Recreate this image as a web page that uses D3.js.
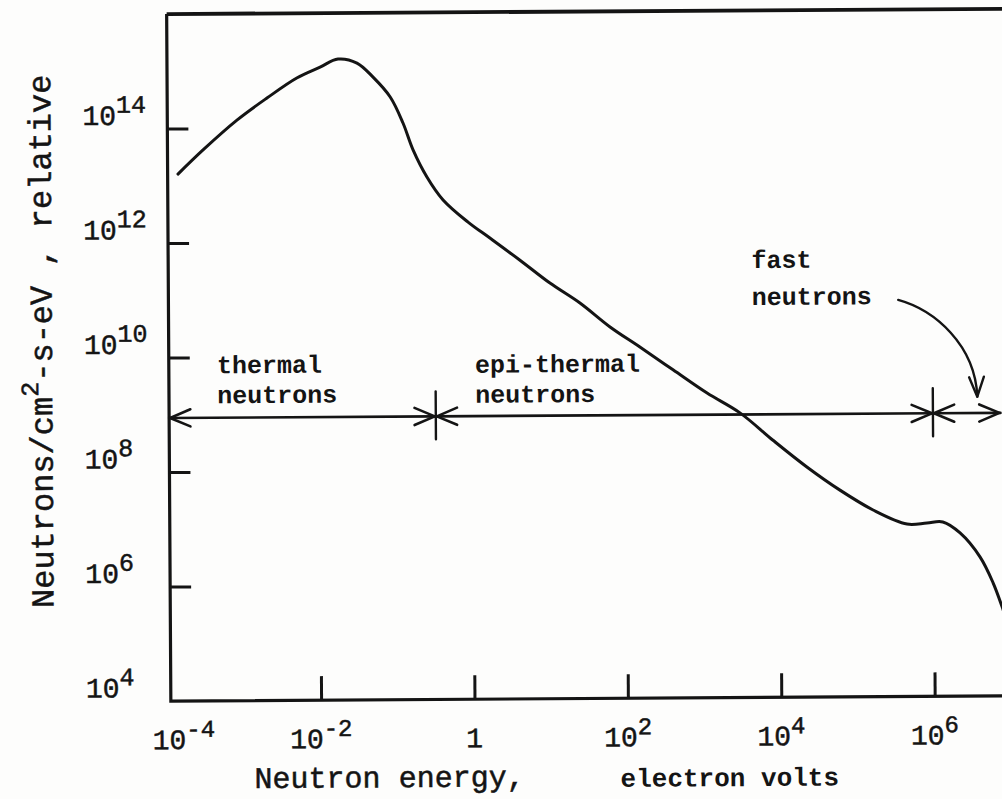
<!DOCTYPE html>
<html>
<head>
<meta charset="utf-8">
<script src="https://cdn.jsdelivr.net/npm/d3@7"></script>
<style>
  html, body { margin: 0; padding: 0; background: #fdfdfc; }
  svg { display: block; }
  text { font-family: "Courier New", "Liberation Mono", monospace; fill: #141414; }
  text.typed { stroke: #141414; stroke-width: 0.5px; }
</style>
</head>
<body>
<svg id="chart" width="1002" height="799"></svg>
<script>
// Neutron energy (eV) and relative flux (neutrons / cm^2-s-eV) along the spectrum curve
const energyEV = [1.5e-4, 3.2e-4, 8.9e-4, 2.2e-3, 5.4e-3, 1.09e-2, 1.87e-2, 3.3e-2, 5.3e-2, 8.9e-2,
  0.13, 0.175, 0.264, 0.427, 0.90, 1.73, 4.25, 10.4, 25.5, 62.7,
  153, 412, 1140, 3050, 8180, 2.25e4, 6.05e4, 1.63e5, 4.5e5, 8.2e5,
  1.32e6, 2.21e6, 4.0e6, 5.9e6, 7.7e6, 1.0e7];
const fluxRel = [1.6e13, 4.2e13, 1.38e14, 3.33e14, 7.4e14, 1.14e15, 1.57e15, 1.33e15, 7.6e14, 3.37e14,
  1.18e14, 4.0e13, 1.34e13, 5.3e12, 2.16e12, 1.13e12, 4.6e11, 1.82e11, 8.1e10, 3.07e10,
  1.36e10, 5.4e9, 2.1e9, 9.4e8, 3.1e8, 1.05e8, 4.1e7, 1.83e7, 1.03e7, 1.07e7,
  1.11e7, 7.1e6, 2.7e6, 9.5e5, 3.6e5, 1.2e5];

// Axis ticks and their labels
const xTickValues = [1e-2, 1, 1e2, 1e4, 1e6];
const xLabelValues = [1e-4, 1e-2, 1, 1e2, 1e4, 1e6];
const xLabelBase = ["10", "10", "1", "10", "10", "10"];
const xLabelExp = ["-4", "-2", "", "2", "4", "6"];
const yTickValues = [1e6, 1e8, 1e10, 1e12, 1e14];
const yLabelValues = [1e4, 1e6, 1e8, 1e10, 1e12, 1e14];
const yLabelExp = ["4", "6", "8", "10", "12", "14"];

// Energy bands: boundaries (eV) and the flux level of the band arrows
const bandBounds = [1.1e-4, 0.33, 1e6, 7.6e6];
const bandArrowFlux = 8.8e8;
const bandNames = [["thermal", "neutrons"], ["epi-thermal", "neutrons"], ["fast", "neutrons"]];

// Pointer from the "fast neutrons" label down to its band: start, two controls, tip (eV, flux)
const fastPointerE = [3.6e5, 1.08e6, 3.6e6, 3.8e6];
const fastPointerF = [8.5e10, 5.6e10, 1.36e10, 1.7e9];

// Plot window
const energyDomain = [1e-4, 1e7];
const fluxDomain = [1e4, 1e16];
const frameEnergyMin = 1.1e-4;

const ink = "#141414";
const svg = d3.select("#chart");
const root = svg.append("g").attr("transform", "rotate(-0.35 587 360)");

const x = d3.scaleLog().domain(energyDomain).range([165.6, 1009.3]);
const y = d3.scaleLog().domain(fluxDomain).range([698.5, 11.5]);

const xL = x(frameEnergyMin), xR = x(energyDomain[1]);
const yB = y(fluxDomain[0]), yT = y(fluxDomain[1]);

// Frame: heavy top rule, left and bottom axes
root.append("path")
  .attr("d", `M${xL},${yT}H${xR}`)
  .attr("fill", "none").attr("stroke", ink).attr("stroke-width", 3.8);
root.append("path")
  .attr("d", `M${xL},${yT}V${yB}H${xR}`)
  .attr("fill", "none").attr("stroke", ink).attr("stroke-width", 3.2);

// Inward tick marks
root.append("g")
  .attr("transform", `translate(${xL},0)`)
  .call(d3.axisRight(y).tickValues(yTickValues).tickSize(21).tickFormat(""))
  .call(g => g.select(".domain").remove())
  .call(g => g.selectAll("line").attr("stroke", ink).attr("stroke-width", 3));
root.append("g")
  .attr("transform", `translate(0,${yB})`)
  .call(d3.axisTop(x).tickValues(xTickValues).tickSize(24).tickFormat(""))
  .call(g => g.select(".domain").remove())
  .call(g => g.selectAll("line").attr("stroke", ink).attr("stroke-width", 3));

// Tick labels with powers of ten
const xLab = root.append("g").selectAll("text")
  .data(xLabelValues.map((v, i) => ({ v, base: xLabelBase[i], exp: xLabelExp[i] })))
  .join("text")
  .attr("class", "typed")
  .attr("x", d => x(d.v) + (d.v === 1e-4 ? 16 : 0))
  .attr("y", yB + 48)
  .attr("text-anchor", "middle")
  .style("font-size", "28px");
xLab.append("tspan").text(d => d.base);
xLab.filter(d => d.exp !== "").append("tspan")
  .attr("dy", -12).style("font-size", "24px").text(d => d.exp);

const yLab = root.append("g").selectAll("text")
  .data(yLabelValues.map((v, i) => ({ v, exp: yLabelExp[i] })))
  .join("text")
  .attr("class", "typed")
  .attr("x", 84)
  .attr("y", d => y(d.v) - 4)
  .style("font-size", "28px");
yLab.append("tspan").text("10");
yLab.append("tspan").attr("dy", -12).style("font-size", "25px").text(d => d.exp);

// Spectrum curve
const pts = energyEV.map((e, i) => [e, fluxRel[i]]);
root.append("path")
  .datum(pts)
  .attr("fill", "none").attr("stroke", ink).attr("stroke-width", 3)
  .attr("stroke-linejoin", "round").attr("stroke-linecap", "round")
  .attr("d", d3.line().x(d => x(d[0])).y(d => y(d[1])).curve(d3.curveCatmullRom.alpha(0.5)));

// Band arrows with open heads and boundary markers
function headPath(tx, ty, dx, dy, len, ang) {
  const t = Math.atan2(dy, dx) + Math.PI;
  const a1 = t + ang, a2 = t - ang;
  return `M${tx + len * Math.cos(a1)},${ty + len * Math.sin(a1)}L${tx},${ty}L${tx + len * Math.cos(a2)},${ty + len * Math.sin(a2)}`;
}
const ay = y(bandArrowFlux);
const bands = root.append("g").attr("fill", "none").attr("stroke", ink)
  .attr("stroke-linecap", "round").attr("stroke-linejoin", "round");
for (let i = 0; i < bandBounds.length - 1; i++) {
  const x0 = x(bandBounds[i]), x1 = x(bandBounds[i + 1]);
  bands.append("path").attr("d", `M${x0},${ay}H${x1}`).attr("stroke-width", 2.6);
  bands.append("path").attr("d", headPath(x0 + 1, ay, -1, 0, 22, 0.4)).attr("stroke-width", 2.6);
  bands.append("path").attr("d", headPath(x1 - 1, ay, 1, 0, 22, 0.4)).attr("stroke-width", 2.6);
}
bandBounds.slice(1, 3).forEach(b => {
  bands.append("path").attr("d", `M${x(b)},${ay - 25}V${ay + 23}`).attr("stroke-width", 2.4);
});

// Band names
const nameLayout = [
  { x: 217, y: 371, gap: 30 },
  { x: 475, y: 372, gap: 30 },
  { x: 752, y: 269, gap: 37 }
];
bandNames.forEach((lines, i) => {
  const L = nameLayout[i];
  const t = root.append("text")
    .attr("x", L.x).attr("y", L.y)
    .style("font-size", "25px").style("font-weight", "bold");
  lines.forEach((s, j) => {
    t.append("tspan").attr("x", L.x).attr("dy", j === 0 ? 0 : L.gap).text(s);
  });
});

// Curved pointer for the fast band
const P = fastPointerE.map((e, i) => [x(e), y(fastPointerF[i])]);
root.append("path")
  .attr("d", `M${P[0][0]},${P[0][1]}C${P[1][0]},${P[1][1]} ${P[2][0]},${P[2][1]} ${P[3][0]},${P[3][1]}`)
  .attr("fill", "none").attr("stroke", ink).attr("stroke-width", 2.4).attr("stroke-linecap", "round");
root.append("path")
  .attr("d", headPath(P[3][0], P[3][1], P[3][0] - P[2][0], P[3][1] - P[2][1], 21, 0.36))
  .attr("fill", "none").attr("stroke", ink).attr("stroke-width", 2.4)
  .attr("stroke-linecap", "round").attr("stroke-linejoin", "round");

// Axis titles
const yt = root.append("text")
  .attr("class", "typed")
  .attr("transform", "translate(52,338) rotate(-90)")
  .attr("text-anchor", "middle")
  .style("font-size", "32px");
yt.append("tspan").text("Neutrons/cm");
yt.append("tspan").attr("dy", -14).style("font-size", "25px").text("2");
yt.append("tspan").attr("dy", 14).text("-s-eV , relative");

root.append("text")
  .attr("class", "typed")
  .attr("x", 252).attr("y", 786)
  .style("font-size", "30px")
  .text("Neutron energy,");
root.append("text")
  .attr("x", 618).attr("y", 787)
  .style("font-size", "26px").style("font-weight", "bold")
  .text("electron volts");
</script>
</body>
</html>
